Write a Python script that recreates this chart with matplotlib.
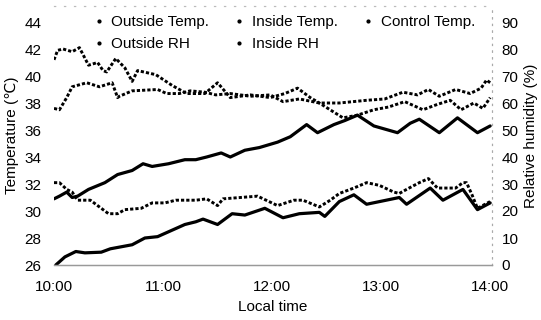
import matplotlib
matplotlib.use("Agg")
import matplotlib.pyplot as plt
from matplotlib.lines import Line2D

plt.rcParams['font.family'] = ['Liberation Sans', 'DejaVu Sans']

# minutes after 10:00 and values
out_temp_t = [0, 3, 7, 10, 13, 19, 28, 35, 43, 49, 54, 63, 72, 78, 84, 92, 97, 105, 113, 123,
              130, 139, 145, 154, 160, 167, 176, 189, 196, 201, 212, 222, 233, 240]
out_temp = [30.9, 31.1, 31.4, 31.0, 31.1, 31.6, 32.1, 32.7, 33.0, 33.5, 33.3, 33.5, 33.8, 33.8,
            34.0, 34.3, 34.0, 34.5, 34.7, 35.1, 35.5, 36.4, 35.8, 36.4, 36.7, 37.1, 36.3, 35.8,
            36.5, 36.8, 35.8, 36.9, 35.8, 36.3]

in_temp_t = [1, 6, 12, 17, 26, 31, 43, 50, 57, 67, 72, 78, 82, 90, 98, 105, 116, 126, 135, 146,
             149, 157, 165, 172, 190, 194, 207, 214, 225, 233, 240]
in_temp = [26.0, 26.6, 27.0, 26.9, 26.95, 27.2, 27.5, 28.0, 28.1, 28.7, 29.0, 29.2, 29.4, 29.0,
           29.8, 29.7, 30.2, 29.5, 29.8, 29.9, 29.6, 30.7, 31.2, 30.5, 31.0, 30.5, 31.7, 30.8,
           31.6, 30.1, 30.6]

ctrl_temp_t = [0, 3, 7, 10, 13, 20, 26, 30, 35, 39, 48, 54, 61, 67, 78, 84, 90, 93, 112, 123,
               132, 137, 146, 152, 157, 165, 172, 179, 187, 190, 194, 201, 206, 211, 221, 225,
               227, 230, 233, 240]
ctrl_temp = [32.1, 32.1, 31.6, 31.4, 30.8, 30.8, 30.2, 29.8, 29.8, 30.1, 30.2, 30.6, 30.6, 30.8,
             30.8, 30.9, 30.4, 30.9, 31.1, 30.4, 30.8, 30.8, 30.3, 30.8, 31.3, 31.7, 32.1, 31.9,
             31.4, 31.3, 31.6, 32.1, 32.4, 31.7, 31.7, 32.1, 32.1, 31.2, 30.2, 30.7]

out_rh_t = [0, 2, 5, 10, 14, 19, 24, 27, 29, 34, 39, 43, 46, 56, 65, 73, 83, 90, 97, 108, 119,
            127, 134, 141, 146, 159, 167, 176, 184, 193, 203, 211, 218, 224, 231, 236, 240]
out_rh = [76, 79.5, 80, 79, 80.5, 74, 75, 72, 71.5, 76.5, 73, 68, 72, 70.5, 66.5, 63.5, 63.5,
          67.5, 62, 63, 62, 63.5, 65.5, 62, 60, 54.5, 55.5, 57.5, 58.5, 60.5, 57.5, 59.5, 61,
          57.5, 60, 58, 62]

in_rh_t = [0, 3, 7, 10, 18, 25, 32, 35, 36, 43, 57, 62, 69, 75, 83, 89, 97, 108, 119, 126, 135,
           146, 157, 172, 182, 192, 200, 206, 212, 221, 229, 235, 238, 240]
in_rh = [58, 57.5, 62, 66, 67.5, 66, 67.5, 62, 62.5, 64.5, 65, 63.5, 63.5, 64.5, 64, 63, 63.5,
         62.5, 63, 60.5, 61.5, 60, 60, 61, 61.5, 64, 63, 65, 62.5, 65, 63.5, 65.5, 68.5, 67.5]

xtick_labels = ['10:00', '11:00', '12:00', '13:00', '14:00']
left_ticks = [26, 28, 30, 32, 34, 36, 38, 40, 42, 44]
right_ticks = [0, 10, 20, 30, 40, 50, 60, 70, 80, 90]

fig = plt.figure(figsize=(5.41, 3.2), dpi=100)
ax = fig.add_axes([54/541, 1-265/320, (492-54)/541, (265-6)/320])
ax2 = ax.twinx()

t_lo, t_hi = 26, 26 + 259/13.5
ax.set_ylim(t_lo, t_hi)
ax2.set_ylim((t_lo-26)*5, (t_hi-26)*5)
ax.set_xlim(0, 241)

solid = dict(color='black', lw=2.3, solid_capstyle='round', solid_joinstyle='round')
dotted = dict(color='black', lw=2.1, linestyle=(0, (1.1, 0.7)), dash_capstyle='butt')

ax.plot(out_temp_t, out_temp, **solid)
ax.plot(in_temp_t, in_temp, **solid)
ax.plot(ctrl_temp_t, ctrl_temp, **dotted)
ax2.plot(out_rh_t, out_rh, **dotted)
ax2.plot(in_rh_t, in_rh, **dotted)

ax.set_xticks([0, 60, 120, 180, 240])
ax.set_xticklabels(xtick_labels)
ax.set_yticks(left_ticks)
ax2.set_yticks(right_ticks)
ax.tick_params(axis='both', length=0, labelsize=11)
ax.tick_params(axis='y', pad=9)
ax.tick_params(axis='x', pad=11)
ax2.tick_params(axis='y', length=0, labelsize=11, pad=7)

for a in (ax, ax2):
    a.spines['left'].set_visible(False)
    a.spines['top'].set_color('#bbbbbb')
    a.spines['top'].set_linestyle((0, (1, 8)))
    a.spines['top'].set_linewidth(0.8)
    a.spines['right'].set_color('#aaaaaa')
    a.spines['right'].set_linestyle((0, (1, 5)))
    a.spines['right'].set_linewidth(0.8)
    a.spines['bottom'].set_color('#999999')
    a.spines['bottom'].set_linewidth(0.9)

ax.set_xlabel('Local time', fontsize=11, labelpad=4)
ax.set_ylabel('Temperature (℃)', fontsize=11, labelpad=4)
ax2.set_ylabel('Relative humidity (%)', fontsize=11, labelpad=4)

names = ['Outside Temp.', 'Outside RH', 'Inside Temp.', 'Inside RH', 'Control Temp.']
handles = [Line2D([], [], color='black', marker='o', markersize=2.0, linestyle='none')
           for _ in names]
ax.legend(handles, names, ncol=3, frameon=False, fontsize=11,
          loc='upper left', bbox_to_anchor=(0.065, 1.005), handlelength=0.7,
          handletextpad=0.5, columnspacing=1.6, labelspacing=0.5, borderpad=0.2)

fig.savefig('out.png', dpi=100)
